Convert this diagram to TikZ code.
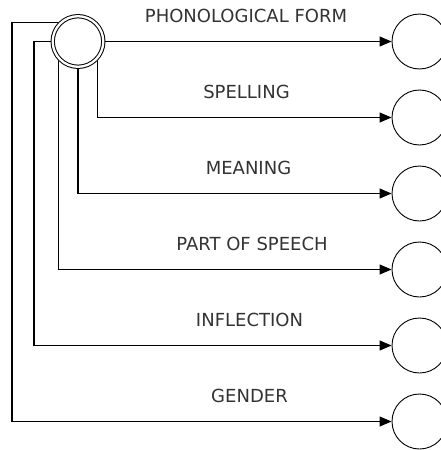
\documentclass[tikz,border=0pt]{standalone}
\usepackage{fontspec}
\setmainfont{DejaVu Sans}
\usetikzlibrary{arrows.meta}
\begin{document}
\begin{tikzpicture}[x=1pt,y=-1pt,
 lbl/.style={text=black!80, font=\fontsize{18}{21}\selectfont, inner sep=0, anchor=base},
 conn/.style={line width=1.2pt, -{Triangle[length=12pt,width=10pt]}},
 leaf/.style={circle, draw, line width=0.9pt, minimum size=55pt, inner sep=0},
 hub/.style={circle, draw, line width=1pt, double, double distance=2.3pt, minimum size=50.6pt, inner sep=0, outer sep=2pt}]
\useasboundingbox (0,0) rectangle (441,450);
\clip (0,0) rectangle (441,450);
\node[hub] (h) at (78,41.5) {};
\node[leaf] (l1) at (419.5,41.5) {};
\node[leaf] (l2) at (419.5,117.5) {};
\node[leaf] (l3) at (419.5,193.5) {};
\node[leaf] (l4) at (419.5,269.5) {};
\node[leaf] (l5) at (419.5,345.5) {};
\node[leaf] (l6) at (419.5,421.5) {};
\coordinate (k5) at (34,345.5);
\coordinate (k6) at (12,421.5);
\draw[conn] (h.east) -- (l1.west);
\draw[conn] (h.-45) |- (l2.west);
\draw[conn] (h.south) |- (l3.west);
\draw[conn] (h.-135) |- (l4.west);
\draw[conn] (h.west) -| (k5) -- (l5.west);
\draw[conn] (h.137) -| (k6) -- (l6.west);
\node[lbl] (t1) at (246,22.5) {PHONOLOGICAL FORM};
\node[lbl] (t2) at (246.5,98.5) {SPELLING};
\node[lbl] (t3) at (248.5,174.5) {MEANING};
\node[lbl] (t4) at (252,250.5) {PART OF SPEECH};
\node[lbl] (t5) at (249.5,326.5) {INFLECTION};
\node[lbl] (t6) at (249.5,402.5) {GENDER};
\end{tikzpicture}
\end{document}
